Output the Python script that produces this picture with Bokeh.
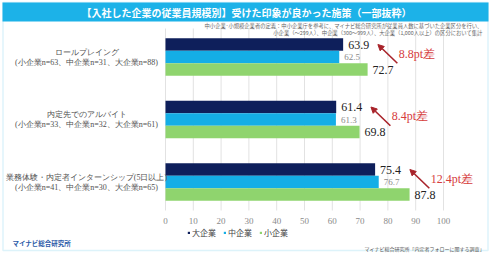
from bokeh.plotting import figure
from bokeh.models import (Range1d, ColumnDataSource, LabelSet, Label,
                          Arrow, NormalHead, BoxAnnotation, Legend, LegendItem)
from bokeh.embed import file_html
from bokeh.resources import INLINE

# ---- data ----
title_text = "【入社した企業の従業員規模別】受けた印象が良かった施策（一部抜粋）"
measures = ["ロールプレイング", "内定先でのアルバイト", "業務体験・内定者インターンシップ(5日以上)"]
sample_notes = ["(小企業n=63、中企業n=31、大企業n=88)",
                "(小企業n=33、中企業n=32、大企業n=61)",
                "(小企業n=41、中企業n=30、大企業n=65)"]
series = ["大企業", "中企業", "小企業"]
large = [63.9, 61.4, 75.4]
medium = [62.5, 61.3, 76.7]
small = [72.7, 69.8, 87.8]
ticks = [0, 10, 20, 30, 40, 50, 60, 70, 80, 90, 100]
note_lines = ["中小企業･小規模企業者の定義：中小企業庁を参考に、マイナビ総合研究所が従業員人数に基づいた企業区分を行い、",
              "小企業（～299人）、中企業（300～999人）、大企業（1,000人以上）の区分において集計"]
brand = "マイナビ総合研究所"
source_note = "マイナビ総合研究所「内定者フォローに関する調査」"

# ---- styles ----
FONT = "Noto Sans CJK JP"
colors = {"大企業": "#0e1f5b", "中企業": "#14aee6", "小企業": "#8fd46e"}
ACCENT = "#1cb2e8"
RED_TEXT = "#d63c3c"
RED_LINE = "#a8232a"

W, H = 490, 257
PX_PER_UNIT = 2.78          # horizontal scale: 1 percentage point
X0_PX = 165                 # where 0 % sits
GROUP_PX = 62.5             # distance between measure groups
FIRST_GROUP_PX = 56.5       # centre of the first group
BAR = 0.2                   # bar thickness in group units

x_start = -X0_PX / PX_PER_UNIT
x_range = Range1d(x_start, x_start + W / PX_PER_UNIT)
# y counts measure groups downward from the top
y_top = -FIRST_GROUP_PX / GROUP_PX
y_range = Range1d(y_top + H / GROUP_PX, y_top)

def ypos(px):
    return y_top + px / GROUP_PX

p = figure(width=W, height=H, x_range=x_range, y_range=y_range,
           output_backend="svg", toolbar_location=None, min_border=0)
p.axis.visible = False
p.grid.visible = False
p.outline_line_color = None
p.background_fill_color = "white"
p.border_fill_color = "white"

# vertical grid lines and their tick labels
p.segment(x0=ticks, x1=ticks, y0=ypos(28), y1=ypos(210), line_color="#e2e2e2", line_width=1)
tick_src = ColumnDataSource(dict(x=ticks, y=[ypos(220)] * len(ticks), txt=[str(t) for t in ticks]))
p.add_layout(LabelSet(x="x", y="y", text="txt", source=tick_src, text_align="center",
                      text_baseline="middle", text_font=FONT, text_font_size="9px",
                      text_color="#8a8a8a"))

values_by_series = {"大企業": large, "中企業": medium, "小企業": small}
offsets = {"大企業": -BAR, "中企業": 0.0, "小企業": BAR}
label_style = {"大企業": ("12px", "#222222"), "中企業": ("9px", "#8a8a8a"), "小企業": ("12px", "#222222")}
renderers = {}
for s in series:
    vals = values_by_series[s]
    src = ColumnDataSource(dict(y=[i + offsets[s] for i in range(len(measures))], v=vals,
                                txt=[f"{v:.1f}" for v in vals]))
    renderers[s] = p.hbar(y="y", left=0, right="v", height=BAR, source=src,
                          fill_color=colors[s], line_color=None)
    size, col = label_style[s]
    p.add_layout(LabelSet(x="v", y="y", text="txt", source=src, x_offset=5,
                          text_baseline="middle", text_font=FONT,
                          text_font_size=size, text_color=col))

# category labels left of the bars: name above, sample sizes below
name_src = ColumnDataSource(dict(y=[i - 0.08 for i in range(len(measures))], txt=measures))
note_src = ColumnDataSource(dict(y=[i + 0.08 for i in range(len(measures))], txt=sample_notes))
for src in (name_src, note_src):
    p.add_layout(LabelSet(x=86, x_units="screen", y="y", text="txt", source=src,
                          text_align="center", text_baseline="middle", text_font=FONT,
                          text_font_size="8px", text_color="#505050"))

# gap arrows between 大企業 and 小企業
gaps = [round(sm - lg, 1) for sm, lg in zip(small, large)]
arrow_src = ColumnDataSource(dict(
    xs=[lg + 19.5 for lg in large],
    ys=[i + BAR / 2 for i in range(len(measures))],
    xe=[lg + 12.5 for lg in large],
    ye=[i - BAR for i in range(len(measures))],
))
p.add_layout(Arrow(x_start="xs", y_start="ys", x_end="xe", y_end="ye", source=arrow_src,
                   line_color=RED_LINE, line_width=1.6,
                   end=NormalHead(size=6, fill_color=RED_LINE, line_color=RED_LINE)))
gap_src = ColumnDataSource(dict(x=[lg + 20.0 for lg in large],
                                y=[i - 0.05 for i in range(len(measures))],
                                txt=[f"{g:.1f}pt差" for g in gaps]))
p.add_layout(LabelSet(x="x", y="y", text="txt", source=gap_src, text_baseline="middle",
                      text_font=FONT, text_font_size="12px", text_color=RED_TEXT))

# legend under the axis
legend = Legend(items=[LegendItem(label=s, renderers=[renderers[s]]) for s in series],
                orientation="horizontal", location=(187, 257 - 238),
                glyph_width=3, glyph_height=3, label_standoff=2, spacing=7,
                padding=0, margin=0, background_fill_alpha=0, border_line_color=None,
                label_text_font=FONT, label_text_font_size="8px", label_text_color="#444444",
                label_height=8)
p.add_layout(legend)

# page chrome: frame, title bar, notes
p.add_layout(BoxAnnotation(left=2.5, right=487.5, top=2, bottom=250,
                           left_units="canvas", right_units="canvas",
                           top_units="canvas", bottom_units="canvas",
                           fill_alpha=0, line_color="#8fd6f0", line_width=1.5))
p.add_layout(BoxAnnotation(left=2, right=488, top=2, bottom=21,
                           left_units="canvas", right_units="canvas",
                           top_units="canvas", bottom_units="canvas",
                           fill_color=ACCENT, fill_alpha=1, line_color=None))
p.add_layout(Label(x=246, y=11.5, x_units="canvas", y_units="canvas", text=title_text,
                   text_align="center", text_baseline="middle", text_font=FONT,
                   text_font_style="bold", text_font_size="10px", text_color="white"))
for i, line in enumerate(note_lines):
    p.add_layout(Label(x=482, y=25.5 + 7 * i, x_units="canvas", y_units="canvas", text=line,
                       text_align="right", text_baseline="middle", text_font=FONT,
                       text_font_size="5.3px", text_color="#666666"))
p.add_layout(Label(x=12, y=242.5, x_units="canvas", y_units="canvas", text=brand,
                   text_align="left", text_baseline="middle", text_font=FONT,
                   text_font_style="bold", text_font_size="6.5px", text_color="#2a5aa8"))
p.add_layout(Label(x=484, y=247.5, x_units="canvas", y_units="canvas", text=source_note,
                   text_align="right", text_baseline="middle", text_font=FONT,
                   text_font_size="5px", text_color="#555555"))

open("out.html", "w").write(file_html(p, INLINE))
